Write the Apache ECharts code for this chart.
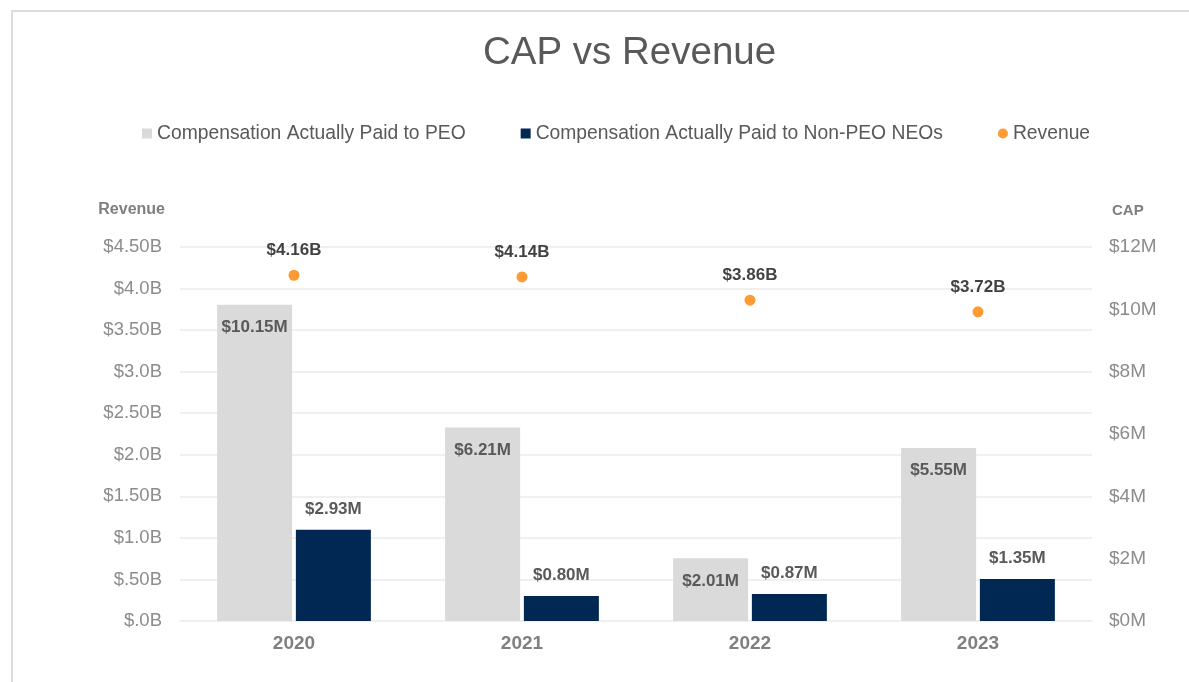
<!DOCTYPE html>
<html>
<head>
<meta charset="utf-8">
<title>CAP vs Revenue</title>
<script src="https://cdn.jsdelivr.net/npm/echarts@6/dist/echarts.min.js"></script>
<style>
body { margin: 0; background: #fff; }
#frame { position: absolute; left: 11px; top: 10px; width: 1300px; height: 800px; border-left: 2px solid #dcdcdc; border-top: 2px solid #dcdcdc; }
#main { position: absolute; left: 0; top: 0; width: 1189px; height: 682px; }
</style>
</head>
<body>
<div id="frame"></div>
<div id="main"></div>
<script>
// 数据
var years = [ '2020', '2021', '2022', '2023' ];
var revenue = [ 4.16, 4.14, 3.86, 3.72 ]; // $B
var capPeo = [ 10.15, 6.21, 2.01, 5.55 ]; // $M
var capNonPeo = [ 2.93, 0.80, 0.87, 1.35 ]; // $M
var revenueTicks = [ '$.0B', '$.50B', '$1.0B', '$1.50B', '$2.0B', '$2.50B',
		'$3.0B', '$3.50B', '$4.0B', '$4.50B' ];
var capTicks = [ '$0M', '$2M', '$4M', '$6M', '$8M', '$10M', '$12M' ];

var font = 'Liberation Sans, Arial, sans-serif';

function capVsRevenue() {
	var chart = echarts.init(document.getElementById('main'));
	var option = {
		animation : false,
		title : {
			text : 'CAP vs Revenue',
			left : 478,
			top : 29,
			textStyle : {
				fontFamily : font,
				fontSize : 38.5,
				fontWeight : 'normal',
				color : '#595959'
			}
		},
		legend : {
			left : 137,
			top : 119,
			itemWidth : 10,
			itemHeight : 10,
			itemGap : 55,
			textStyle : {
				fontFamily : font,
				fontSize : 19.3,
				color : '#595959'
			},
			data : [ {
				name : 'Compensation Actually Paid to PEO',
				icon : 'rect'
			}, {
				name : 'Compensation Actually Paid to Non-PEO NEOs',
				icon : 'rect'
			}, {
				name : 'Revenue',
				icon : 'circle'
			} ]
		},
		grid : {
			left : 180,
			right : 97,
			top : 247,
			bottom : 61
		},
		xAxis : {
			type : 'category',
			data : years,
			axisTick : {
				show : false
			},
			axisLine : {
				lineStyle : {
					color : '#f0f0f0',
					width : 2
				}
			},
			axisLabel : {
				margin : 13,
				fontFamily : font,
				fontSize : 19,
				fontWeight : 'bold',
				color : '#7f7f7f'
			}
		},
		yAxis : [ {
			type : 'value',
			min : 0,
			max : 4.5,
			interval : 0.5,
			name : 'Revenue',
			nameGap : 29,
			nameTextStyle : {
				fontFamily : font,
				fontSize : 16,
				fontWeight : 'bold',
				color : '#7f7f7f',
				align : 'right',
				padding : [ 0, 15, 0, 0 ]
			},
			axisLine : {
				show : false
			},
			axisTick : {
				show : false
			},
			splitLine : {
				lineStyle : {
					color : '#f0f0f0',
					width : 2
				}
			},
			axisLabel : {
				margin : 18,
				fontFamily : font,
				fontSize : 18.5,
				color : '#8c8c8c',
				formatter : function(v) {
					return revenueTicks[Math.round(v / 0.5)];
				}
			}
		}, {
			type : 'value',
			min : 0,
			max : 12,
			interval : 2,
			name : 'CAP',
			nameGap : 29,
			nameTextStyle : {
				fontFamily : font,
				fontSize : 15,
				fontWeight : 'bold',
				color : '#7f7f7f',
				align : 'left',
				padding : [ 0, 0, 0, 20 ]
			},
			axisLine : {
				show : false
			},
			axisTick : {
				show : false
			},
			splitLine : {
				show : false
			},
			axisLabel : {
				margin : 17,
				fontFamily : font,
				fontSize : 19,
				color : '#8c8c8c',
				formatter : function(v) {
					return capTicks[Math.round(v / 2)];
				}
			}
		} ],
		series : [ {
			name : 'Compensation Actually Paid to PEO',
			type : 'bar',
			yAxisIndex : 1,
			barWidth : 75,
			barGap : '5%',
			itemStyle : {
				color : '#d9dad9'
			},
			label : {
				show : true,
				position : 'insideTop',
				distance : 14,
				fontFamily : font,
				fontSize : 17,
				fontWeight : 'bold',
				color : '#595959',
				formatter : function(p) {
					return '$' + p.value.toFixed(2) + 'M';
				}
			},
			data : capPeo
		}, {
			name : 'Compensation Actually Paid to Non-PEO NEOs',
			type : 'bar',
			yAxisIndex : 1,
			barWidth : 75,
			itemStyle : {
				color : '#002852'
			},
			label : {
				show : true,
				position : 'top',
				distance : 12,
				fontFamily : font,
				fontSize : 17,
				fontWeight : 'bold',
				color : '#595959',
				formatter : function(p) {
					return '$' + p.value.toFixed(2) + 'M';
				}
			},
			data : capNonPeo
		}, {
			name : 'Revenue',
			type : 'scatter',
			yAxisIndex : 0,
			symbol : 'circle',
			symbolSize : 11,
			itemStyle : {
				color : '#ff8200'
			},
			label : {
				show : true,
				position : 'top',
				distance : 11,
				fontFamily : font,
				fontSize : 17,
				fontWeight : 'bold',
				color : '#111111',
				formatter : function(p) {
					return '$' + p.value.toFixed(2) + 'B';
				}
			},
			data : revenue
		} ]
	};
	chart.setOption(option);
}

capVsRevenue();
</script>
</body>
</html>
